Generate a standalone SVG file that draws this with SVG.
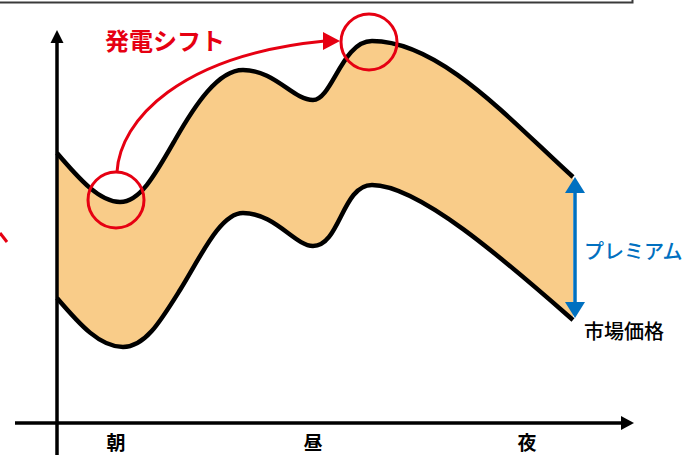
<svg xmlns="http://www.w3.org/2000/svg" width="690" height="455" viewBox="0 0 690 455">
<defs>
<style>
.curve{fill:none;stroke:#000;stroke-width:4.5;stroke-linejoin:round}
.axis{stroke:#000;stroke-width:3.5;fill:none}
.red{fill:none;stroke:#E60012;stroke-width:3}
.lbl{font-family:"Noto Sans CJK JP","Noto Sans",sans-serif}
</style>
</defs>
<rect width="690" height="455" fill="#fff"/>
<g id="frame"><path d="M0,2.5H632.5V0" fill="none" stroke="#3a3a3a" stroke-width="2"/></g>
<g id="band">
<path d="M57,153 C80,180 100,202 120,202 C140,202 155,175 175,140 C195,105 218,70 243,70 C275,70 293,100 313,100 C332,100 342,41 372,41 C440,41 510,120 573,177 L573,320 C510,265 420,185 372,185 C342,185 340,246 313,246 C295,246 275,213 243,213 C220,213 200,258 180,290 C160,322 145,347 123,347 C100,347 80,325 57,298 Z" fill="#F9CC89"/>
<path class="curve" d="M57,153 C80,180 100,202 120,202 C140,202 155,175 175,140 C195,105 218,70 243,70 C275,70 293,100 313,100 C332,100 342,41 372,41 C440,41 510,120 573,177"/>
<path class="curve" d="M57,298 C80,325 100,347 123,347 C145,347 160,322 180,290 C200,258 220,213 243,213 C275,213 295,246 313,246 C340,246 342,185 372,185 C420,185 510,265 573,320"/>
</g>
<g id="axes">
<line class="axis" x1="57" y1="455" x2="57" y2="42"/>
<path d="M57,30 L63.5,43 L50.5,43 Z" fill="#000"/>
<line class="axis" x1="15" y1="423" x2="622" y2="423"/>
<path d="M634,423 L621,416 L621,430 Z" fill="#000"/>
</g>
<g id="shift">
<circle class="red" cx="116" cy="200" r="28"/>
<circle class="red" cx="369" cy="42" r="28"/>
<path class="red" d="M117,172 C120,120 180,55 325,41"/>
<path d="M340,41 L323,32 L323,50 Z" fill="#E60012"/>
<text class="lbl" x="105" y="50" font-size="24" font-weight="bold" fill="#E60012">発電シフト</text>
<line x1="0" y1="233" x2="7" y2="242" stroke="#E60012" stroke-width="3"/>
</g>
<g id="premium">
<line x1="575" y1="190" x2="575" y2="306" stroke="#0070C0" stroke-width="3.5"/>
<path d="M575,177 L585,193 L565,193 Z" fill="#0070C0"/>
<path d="M575,318 L585,302 L565,302 Z" fill="#0070C0"/>
<text class="lbl" x="584" y="259" font-size="20" font-weight="500" fill="#0070C0">プレミアム</text>
<text class="lbl" x="584" y="339" font-size="20" font-weight="500" fill="#000">市場価格</text>
</g>
<g id="ticks" class="lbl" font-size="19" font-weight="bold" fill="#000" text-anchor="middle">
<text x="116" y="450">朝</text>
<text x="313" y="450">昼</text>
<text x="527" y="450">夜</text>
</g>
</svg>
